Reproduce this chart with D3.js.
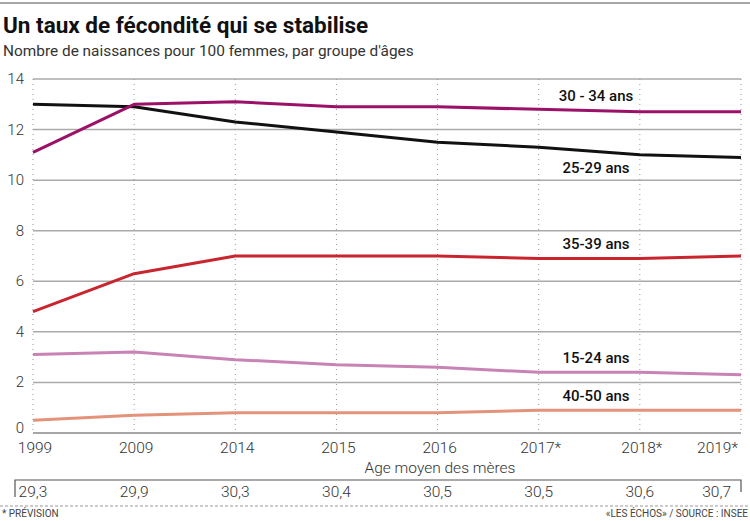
<!DOCTYPE html>
<html><head><meta charset="utf-8">
<script src="https://cdn.jsdelivr.net/npm/d3@7"></script>
<style>body{margin:0;background:#fff}svg{display:block;font-family:Roboto,"Liberation Sans",sans-serif}</style>
</head><body><svg id="c" width="750" height="521"></svg>
<script>
const years = ["1999","2009","2014","2015","2016","2017*","2018*","2019*"];
const ages = ["29,3","29,9","30,3","30,4","30,5","30,5","30,6","30,7"];
const yTicks = [0,2,4,6,8,10,12,14];
const s2529 = [13.0,12.9,12.3,11.9,11.5,11.3,11.0,10.9];
const s3034 = [11.1,13.0,13.1,12.9,12.9,12.8,12.7,12.7];
const s3539 = [4.8,6.3,7.0,7.0,7.0,6.9,6.9,7.0];
const s1524 = [3.1,3.2,2.9,2.7,2.6,2.4,2.4,2.3];
const s4050 = [0.5,0.7,0.8,0.8,0.8,0.9,0.9,0.9];
const series = [
  {name:"40-50 ans", values:s4050, color:"#e2937a", ly:396},
  {name:"15-24 ans", values:s1524, color:"#c883b4", ly:358},
  {name:"35-39 ans", values:s3539, color:"#c9252f", ly:244},
  {name:"25-29 ans", values:s2529, color:"#111111", ly:168},
  {name:"30 - 34 ans", values:s3034, color:"#9c1168", ly:96}
];
const svg = d3.select("#c");
const x = d3.scalePoint().domain(years).range([33,741]);
const y = d3.scaleLinear().domain([0,14]).range([433,79]);

svg.append("line").attr("x1",0).attr("x2",750).attr("y1",3).attr("y2",3).attr("stroke","#888").attr("stroke-width",1.5);
svg.append("text").attr("x",3).attr("y",33).attr("font-size",22.5).attr("font-weight",700).attr("fill","#111").text("Un taux de fécondité qui se stabilise");
svg.append("text").attr("x",3).attr("y",56).attr("font-size",15.4).attr("fill","#333").text("Nombre de naissances pour 100 femmes, par groupe d'âges");

// grid
svg.append("g").selectAll("line").data(yTicks).join("line")
  .attr("x1",33).attr("x2",741).attr("y1",d=>y(d)).attr("y2",d=>y(d))
  .attr("stroke",d=>d===0?"#888":"#aaa").attr("stroke-width",1.5);
svg.append("g").selectAll("line").data(years).join("line")
  .attr("x1",d=>x(d)).attr("x2",d=>x(d)).attr("y1",y(14)).attr("y2",y(0))
  .attr("stroke","#999").attr("stroke-width",1).attr("stroke-dasharray","1,4");
// y labels
svg.append("g").selectAll("text").data(yTicks).join("text")
  .attr("x",24).attr("y",d=>y(d)+(d===0?0:5)).attr("text-anchor","end")
  .attr("font-size",15).attr("font-weight",300).attr("fill","#333").text(d=>d);
// x labels
svg.append("g").selectAll("text").data(years).join("text")
  .attr("x",(d,i)=>i===years.length-1?x(d)-3:x(d)+2).attr("y",453)
  .attr("text-anchor",(d,i)=>i===years.length-1?"end":"middle")
  .attr("font-size",15.5).attr("font-weight",300).attr("fill","#333").text(d=>d);

// lines
const line = d3.line().x((d,i)=>x(years[i])).y(d=>y(d));
svg.append("g").selectAll("path").data(series).join("path")
  .attr("d",d=>line(d.values)).attr("fill","none").attr("stroke",d=>d.color)
  .attr("stroke-width",3).attr("stroke-linejoin","round");
svg.append("g").selectAll("text").data(series).join("text")
  .attr("x",596).attr("y",d=>d.ly+5).attr("text-anchor","middle")
  .attr("font-size",15).attr("font-weight",500).attr("fill","#111").text(d=>d.name);

// age row
svg.append("text").attr("x",440).attr("y",473).attr("text-anchor","middle").attr("font-size",15.5).attr("font-weight",300).attr("fill","#333").text("Age moyen des mères");
svg.append("path").attr("d","M15,497V480H741V492").attr("fill","none").attr("stroke","#555").attr("stroke-width",1.2);
svg.append("g").selectAll("text").data(ages).join("text")
  .attr("x",(d,i)=>i===ages.length-1?x(years[i])-10:x(years[i])).attr("y",497)
  .attr("text-anchor",(d,i)=>i===ages.length-1?"end":"middle")
  .attr("font-size",15.5).attr("font-weight",300).attr("fill","#333").text(d=>d);
svg.append("line").attr("x1",0).attr("x2",750).attr("y1",506).attr("y2",506).attr("stroke","#999").attr("stroke-width",1).attr("stroke-dasharray","3,2");
svg.append("text").attr("x",2).attr("y",517).attr("font-size",10).attr("fill","#444").text("* PRÉVISION");
svg.append("text").attr("x",748).attr("y",517).attr("text-anchor","end").attr("font-size",10).attr("fill","#444").text("«LES ÉCHOS» / SOURCE : INSEE");
</script></body></html>
